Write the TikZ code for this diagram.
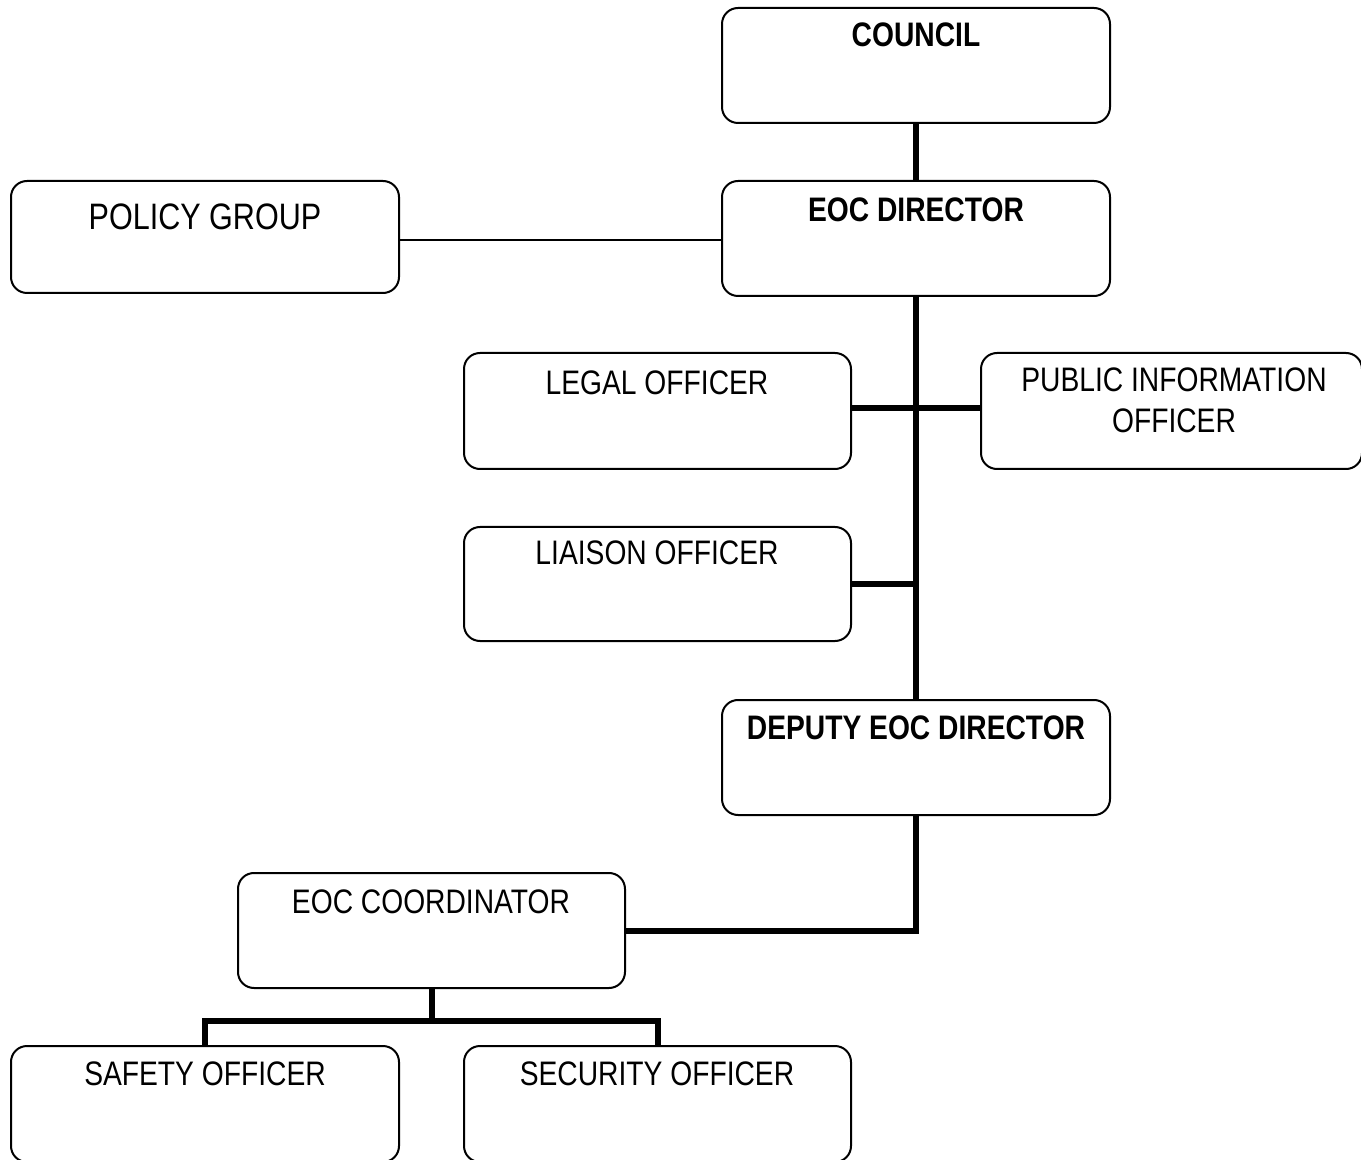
\documentclass[tikz,border=0pt]{standalone}
\usepackage{fontspec}
\setmainfont{Liberation Sans}[FakeStretch=0.83]
\usetikzlibrary{fit}
\begin{document}
\begin{tikzpicture}[x=0.5pt,y=-0.5pt,
  boxst/.style={draw=black,line width=1pt,rounded corners=8pt,inner sep=0pt,outer sep=0pt,fill=white},
  lbl/.style={anchor=base,inner sep=0pt,font=\fontsize{17}{20.5}\selectfont},
  lblb/.style={lbl,font=\fontsize{17}{20.5}\selectfont\bfseries},
  thick line/.style={line width=3pt},
  thin line/.style={line width=1pt}]
\useasboundingbox (0,0) rectangle (1361,1160);
% boxes
\node[boxst,fit={(722,8)(1110,123)}] (council) {};
\node[boxst,fit={(722,181)(1110,296)}] (eocdir) {};
\node[boxst,fit={(11,181)(399,293)}] (policy) {};
\node[boxst,fit={(464,353)(851,469)}] (legal) {};
\node[boxst,fit={(981,353)(1362,469)}] (pio) {};
\node[boxst,fit={(464,527)(851,641)}] (liaison) {};
\node[boxst,fit={(722,700)(1110,815)}] (deputy) {};
\node[boxst,fit={(238,873)(625,988)}] (coord) {};
\node[boxst,fit={(11,1046)(399,1162)}] (safety) {};
\node[boxst,fit={(464,1046)(851,1162)}] (security) {};
% labels
\node[lblb] (council-t) at (916,47) {COUNCIL};
\node[lblb] (eocdir-t) at (916,222) {EOC DIRECTOR};
\node[lbl,font=\fontsize{18.4}{22}\selectfont] (policy-t) at (205,230) {POLICY GROUP};
\node[lbl] (legal-t) at (657,395) {LEGAL OFFICER};
\node[lbl] (pio-t1) at (1174,392) {PUBLIC INFORMATION};
\node[lbl] (pio-t2) at (1174,433) {OFFICER};
\node[lbl] (liaison-t) at (657,565) {LIAISON OFFICER};
\node[lblb] (deputy-t) at (916,739) {DEPUTY EOC DIRECTOR};
\node[lbl] (coord-t) at (431,913) {EOC COORDINATOR};
\node[lbl] (safety-t) at (205,1085) {SAFETY OFFICER};
\node[lbl] (security-t) at (657,1085) {SECURITY OFFICER};
% connectors
\draw[thick line] (council.south) -- (eocdir.north);
\draw[thick line] (eocdir.south) -- (deputy.north);
\draw[thin line] ([yshift=-1.5pt]policy.east) -- ([yshift=-1.5pt]policy.east -| eocdir.west);
\draw[thick line] ([yshift=1.5pt]legal.east) -- ([yshift=1.5pt]legal.east -| pio.west);
\draw[thick line] (liaison.east) -- (liaison.east -| eocdir.south);
\draw[thick line] (deputy.south) |- (coord.east);
\path (coord.south) ++(0,33) coordinate (split);
\draw[thick line] (coord.south) -- (split);
\draw[thick line] (safety.north) |- (split) -| (security.north);
\end{tikzpicture}
\end{document}
